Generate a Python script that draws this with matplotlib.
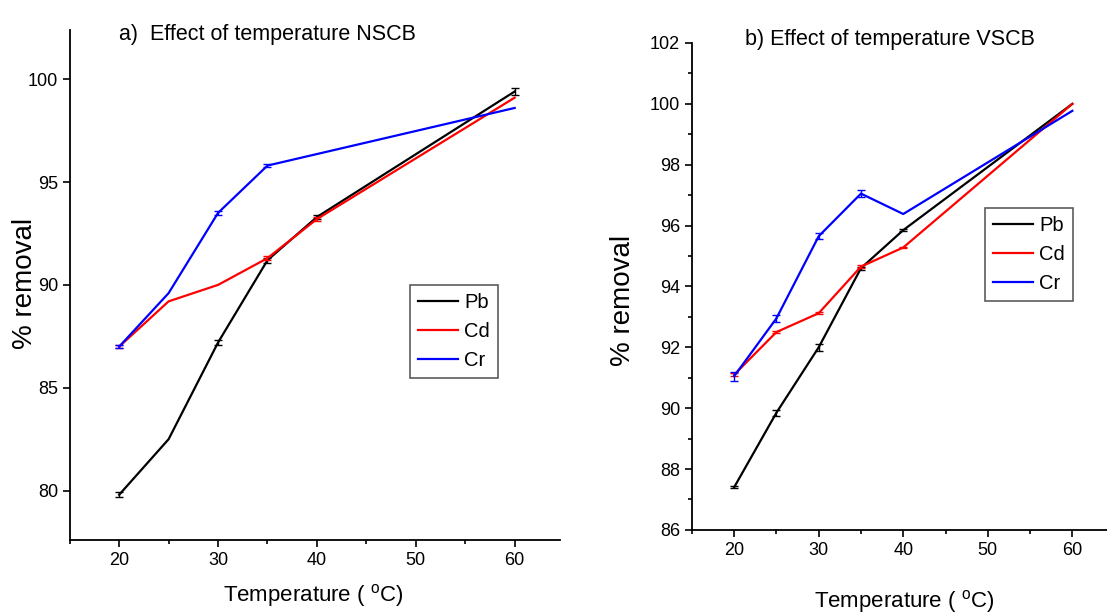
import matplotlib
matplotlib.use('Agg')
import matplotlib.pyplot as plt
from matplotlib.ticker import MultipleLocator
import numpy as np

plt.rcParams['font.family'] = ['Liberation Sans Narrow', 'Liberation Sans', 'DejaVu Sans']
plt.rcParams['mathtext.fontset'] = 'custom'
plt.rcParams['mathtext.rm'] = 'Liberation Sans'

temps = [20, 25, 30, 35, 40, 60]

# a) NSCB
pb_a = [79.8, 82.5, 87.2, 91.2, 93.3, 99.4]
pb_a_err = [0.12, 0, 0.12, 0.12, 0.1, 0.18]
cd_a = [87.0, 89.2, 90.0, 91.3, 93.2, 99.1]
cd_a_err = [0.08, 0, 0, 0.1, 0.08, 0]
cr_a_t = [20, 25, 30, 35, 60]
cr_a = [87.0, 89.6, 93.5, 95.8, 98.6]
cr_a_err = [0.08, 0, 0.08, 0.06, 0]

# b) VSCB
pb_b = [87.4, 89.85, 92.0, 94.6, 95.85, 100.0]
pb_b_err = [0.04, 0.1, 0.12, 0.05, 0.04, 0]
cd_b = [91.1, 92.5, 93.12, 94.65, 95.28, 100.0]
cd_b_err = [0.05, 0.04, 0.03, 0.05, 0.02, 0]
cr_b = [91.05, 92.95, 95.65, 97.05, 96.38, 99.77]
cr_b_err = [0.15, 0.12, 0.1, 0.12, 0, 0]

labels = ['Pb', 'Cd', 'Cr']
colors = ['black', 'red', 'blue']

fig = plt.figure(figsize=(11.07, 6.14), dpi=100)
ax1 = fig.add_axes([0.063, 0.1205, 0.443, 0.831])
ax2 = fig.add_axes([0.625, 0.137, 0.375, 0.793])


def draw(ax, series):
    for (x, y, e), lab, c in zip(series, labels, colors):
        ax.plot(x, y, color=c, lw=1.6, label=lab)
        x = np.array(x); y = np.array(y); e = np.array(e)
        m = e > 0
        ax.errorbar(x[m], y[m], yerr=e[m], fmt='none', ecolor=c,
                    elinewidth=1, capsize=3, capthick=1)
    for s in ['top', 'right']:
        ax.spines[s].set_visible(False)
    for s in ['left', 'bottom']:
        ax.spines[s].set_linewidth(1.3)
    ax.tick_params(direction='out', length=5, width=1.2, labelsize=13)
    ax.tick_params(which='minor', direction='out', length=3, width=1.2)
    ax.xaxis.set_major_locator(MultipleLocator(10))
    ax.xaxis.set_minor_locator(MultipleLocator(5))


def legend(ax, anchor):
    leg = ax.legend(loc='upper left', bbox_to_anchor=anchor, borderaxespad=0,
                    fontsize=14.5, frameon=True, fancybox=False, edgecolor='#333333',
                    handlelength=2.0, handletextpad=0.3, borderpad=0.4,
                    labelspacing=0.5)
    leg.get_frame().set_linewidth(1.2)


draw(ax1, [(temps, pb_a, pb_a_err), (temps, cd_a, cd_a_err), (cr_a_t, cr_a, cr_a_err)])
ax1.set_xlim(15, 64.6)
ax1.set_ylim(77.6, 102.4)
ax1.yaxis.set_major_locator(MultipleLocator(5))
legend(ax1, (0.694, 0.5))

draw(ax2, [(temps, pb_b, pb_b_err), (temps, cd_b, cd_b_err), (temps, cr_b, cr_b_err)])
ax2.set_xlim(15, 64.1)
ax2.set_ylim(86, 102)
ax2.yaxis.set_major_locator(MultipleLocator(2))
ax2.yaxis.set_minor_locator(MultipleLocator(1))
legend(ax2, (0.706, 0.661))

fig.text(0.242, 0.943, 'a)  Effect of temperature NSCB', fontsize=15.5, ha='center', va='center')
fig.text(0.804, 0.935, 'b) Effect of temperature VSCB', fontsize=15.5, ha='center', va='center')

xl = r'Temperature ( $^{\mathrm{o}}$C)'
fig.text(0.283, 0.03, xl, fontsize=16, ha='center', va='center')
fig.text(0.817, 0.02, xl, fontsize=16, ha='center', va='center')

fig.text(0.0226, 0.539, '% removal', fontsize=20, rotation=90, ha='center', va='center',
         family=['Liberation Sans', 'DejaVu Sans'])
fig.text(0.563, 0.51, '% removal', fontsize=20, rotation=90, ha='center', va='center',
         family=['Liberation Sans', 'DejaVu Sans'])

fig.savefig('out.png', dpi=100)
